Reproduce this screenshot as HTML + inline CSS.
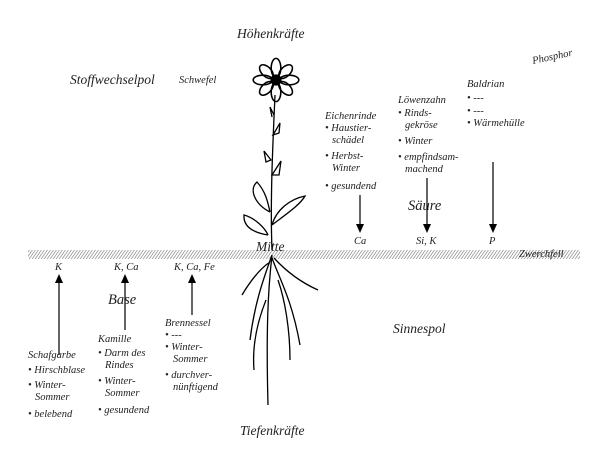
<!DOCTYPE html>
<html><head><meta charset="utf-8"><style>
body{margin:0;background:#fff}
svg{display:block}
text{font-family:"Liberation Serif",serif;font-style:italic;fill:#222}
.s{font-size:10.5px}
.m{font-size:13.5px}
</style></head><body>
<svg width="600" height="456" viewBox="0 0 600 456">
<defs>
<pattern id="h" width="3" height="10" patternUnits="userSpaceOnUse" patternTransform="skewX(-35)">
<rect width="3" height="10" fill="#fff"/><line x1="0.5" y1="0" x2="0.5" y2="10" stroke="#999" stroke-width="1"/>
</pattern>
</defs>
<rect x="28" y="250" width="552" height="9" fill="url(#h)"/>
<text x="237" y="38" class="m">Höhenkräfte</text>
<text x="70" y="84" class="m">Stoffwechselpol</text>
<text x="179" y="83" class="s">Schwefel</text>
<text x="533" y="64" class="s" transform="rotate(-12 533 64)">Phosphor</text>
<text x="467" y="87" class="s">Baldrian</text>
<text x="467" y="101" class="s">• ---</text>
<text x="467" y="114" class="s">• ---</text>
<text x="467" y="126" class="s">• Wärmehülle</text>
<text x="398" y="103" class="s">Löwenzahn</text>
<text x="398" y="116" class="s">• Rinds-</text>
<text x="405" y="128" class="s">gekröse</text>
<text x="398" y="144" class="s">• Winter</text>
<text x="398" y="160" class="s">• empfindsam-</text>
<text x="405" y="172" class="s">machend</text>
<text x="325" y="119" class="s">Eichenrinde</text>
<text x="325" y="131" class="s">• Haustier-</text>
<text x="332" y="143" class="s">schädel</text>
<text x="325" y="159" class="s">• Herbst-</text>
<text x="332" y="171" class="s">Winter</text>
<text x="325" y="189" class="s">• gesundend</text>
<text x="408" y="210" style="font-size:14.5px">Säure</text>
<g stroke="#000" stroke-width="1.2">
<line x1="360" y1="195" x2="360" y2="225"/><line x1="427" y1="178" x2="427" y2="225"/><line x1="493" y1="162" x2="493" y2="225"/>
<line x1="59" y1="355" x2="59" y2="282"/><line x1="125" y1="330" x2="125" y2="282"/><line x1="192" y1="315" x2="192" y2="282"/>
</g>
<g fill="#000">
<path d="M356,224 L364,224 L360,233Z"/><path d="M423,224 L431,224 L427,233Z"/><path d="M489,224 L497,224 L493,233Z"/>
<path d="M55,283 L63,283 L59,274Z"/><path d="M121,283 L129,283 L125,274Z"/><path d="M188,283 L196,283 L192,274Z"/>
</g>
<text x="354" y="244" class="s">Ca</text>
<text x="416" y="244" class="s">Si, K</text>
<text x="489" y="244" class="s">P</text>
<text x="519" y="257" class="s">Zwerchfell</text>
<text x="256" y="251" class="m">Mitte</text>
<text x="55" y="270" class="s">K</text>
<text x="114" y="270" class="s">K, Ca</text>
<text x="174" y="270" class="s">K, Ca, Fe</text>
<text x="108" y="304" style="font-size:14.5px">Base</text>
<text x="165" y="326" class="s">Brennessel</text>
<text x="165" y="338" class="s">•     ---</text>
<text x="165" y="350" class="s">• Winter-</text>
<text x="173" y="362" class="s">Sommer</text>
<text x="165" y="378" class="s">• durchver-</text>
<text x="173" y="390" class="s">nünftigend</text>
<text x="98" y="342" class="s">Kamille</text>
<text x="98" y="356" class="s">• Darm des</text>
<text x="105" y="368" class="s">Rindes</text>
<text x="98" y="384" class="s">• Winter-</text>
<text x="105" y="396" class="s">Sommer</text>
<text x="98" y="413" class="s">• gesundend</text>
<text x="28" y="358" class="s">Schafgarbe</text>
<text x="28" y="373" class="s">• Hirschblase</text>
<text x="28" y="388" class="s">• Winter-</text>
<text x="35" y="400" class="s">Sommer</text>
<text x="28" y="417" class="s">• belebend</text>
<text x="393" y="333" class="m">Sinnespol</text>
<text x="240" y="435" class="m">Tiefenkräfte</text>
<g fill="none" stroke="#000" stroke-width="1.3">
<g transform="translate(276,80) scale(1.2)">
<ellipse cx="0" cy="-10" rx="4" ry="8"/><ellipse cx="0" cy="10" rx="4" ry="8"/>
<ellipse cx="-11" cy="0" rx="8" ry="4"/><ellipse cx="11" cy="0" rx="8" ry="4"/>
<ellipse cx="-8" cy="-7" rx="4" ry="7" transform="rotate(-45 -8 -7)"/><ellipse cx="8" cy="-7" rx="4" ry="7" transform="rotate(45 8 -7)"/>
<ellipse cx="-8" cy="7" rx="4" ry="7" transform="rotate(45 -8 7)"/><ellipse cx="8" cy="7" rx="4" ry="7" transform="rotate(-45 8 7)"/>
<circle r="4" fill="#000"/>
</g>
<path d="M275,95 C273,140 270,200 272,250"/>
<path d="M274,115 l-4,-8 l2,10"/>
<path d="M273,135 l7,-12 l-1,10z"/>
<path d="M271,160 l-7,-9 l2,11z"/>
<path d="M272,175 l9,-14 l-2,14z"/>
<path d="M270,212 C256,205 248,190 257,182 C266,192 268,203 270,212"/>
<path d="M272,225 C285,215 300,205 305,196 C290,199 276,210 272,225"/>
<path d="M268,235 C256,233 243,228 244,215 C255,218 265,228 268,235"/>
<path d="M272,255 C265,275 255,300 250,340 M272,255 C268,290 266,330 268,405 M272,258 C280,280 292,300 300,345 M274,258 C285,270 300,282 318,290 M270,262 C258,270 248,285 242,295 M266,300 C258,320 252,345 254,370 M278,280 C285,300 290,330 290,360"/>
</g>
</svg>
</body></html>
